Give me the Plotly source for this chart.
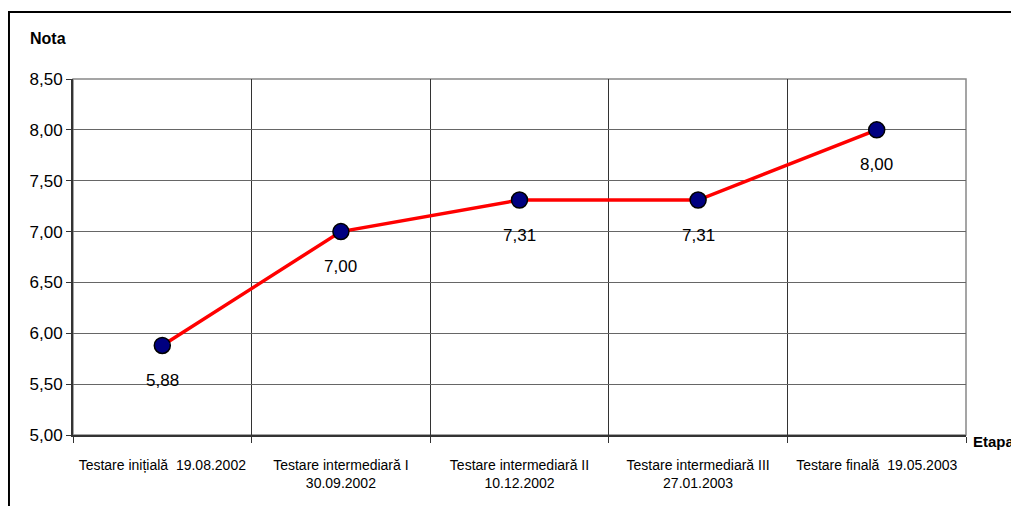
import plotly.graph_objects as go

# Stages (x categories) and average grades
etape = [
    'Testare inițială  19.08.2002',
    'Testare intermediară I<br>30.09.2002',
    'Testare intermediară II<br>10.12.2002',
    'Testare intermediară III<br>27.01.2003',
    'Testare finală  19.05.2003',
]
note = [5.88, 7.00, 7.31, 7.31, 8.00]
etichete = ['5,88', '7,00', '7,31', '7,31', '8,00']

y_ticks = [5.0, 5.5, 6.0, 6.5, 7.0, 7.5, 8.0, 8.5]

font_family = 'Liberation Sans, Arial, sans-serif'

fig = go.Figure()

fig.add_trace(go.Scatter(
    x=etape,
    y=note,
    mode='lines+markers',
    line=dict(color='#ff0000', width=3.5),
    marker=dict(color='#000080', size=16, line=dict(color='#000000', width=1.5)),
    showlegend=False,
    hoverinfo='skip',
))

# value labels under each point
for x, y, t in zip(etape, note, etichete):
    fig.add_annotation(x=x, y=y, text=t, showarrow=False, yshift=-35,
                       font=dict(family=font_family, size=17, color='#000000'))

# axis titles
fig.add_annotation(xref='paper', yref='paper', x=-0.028, y=1.115, text='<b>Nota</b>',
                   xanchor='center', yanchor='middle', showarrow=False,
                   font=dict(family=font_family, size=16, color='#000000'))
fig.add_annotation(xref='paper', yref='paper', x=1.006, y=-0.017, text='<b>Etapa</b>',
                   xanchor='left', yanchor='middle', showarrow=False,
                   font=dict(family=font_family, size=15, color='#000000'))

# outer frame (runs off the right and bottom edge like the original)
fig.add_shape(type='rect', xref='paper', yref='paper', x0=-0.0717, x1=1.3, y0=-0.5, y1=1.188,
              line=dict(color='#000000', width=2), layer='below')
# plot area border top/right
fig.add_shape(type='rect', xref='paper', yref='paper', x0=0, x1=1, y0=0, y1=1,
              line=dict(color='#888888', width=1.5), layer='below')

# page body has an 8px margin, so the figure is 8px smaller than the window
fig.update_layout(
    width=1011,
    height=498,
    margin=dict(l=65, r=53, t=71, b=71),
    paper_bgcolor='#ffffff',
    plot_bgcolor='#ffffff',
    separators=',.',
    font=dict(family=font_family, color='#000000'),
    xaxis=dict(
        type='category',
        tickson='boundaries',
        ticks='outside',
        ticklen=6,
        tickcolor='#333333',
        showgrid=True,
        gridcolor='#333333',
        gridwidth=1,
        showline=True,
        linecolor='#333333',
        linewidth=2,
        tickfont=dict(size=14),
        ticklabelstandoff=16,
        range=[-0.5, 4.5],
    ),
    yaxis=dict(
        range=[5.0, 8.5],
        tickvals=y_ticks,
        tickformat='.2f',
        ticks='outside',
        ticklen=5,
        tickcolor='#333333',
        showgrid=True,
        gridcolor='#666666',
        gridwidth=1,
        showline=True,
        linecolor='#333333',
        linewidth=2,
        zeroline=False,
        tickfont=dict(size=17),
    ),
)

fig.write_html("out.html")
